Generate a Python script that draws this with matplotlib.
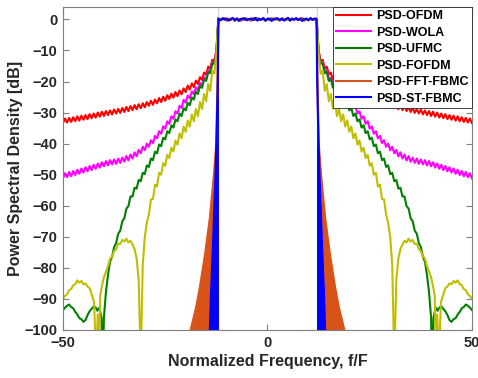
import matplotlib.pyplot as plt
import numpy as np

plt.rcParams['font.family'] = ['Liberation Sans', 'DejaVu Sans']
plt.rcParams['font.weight'] = 'bold'
plt.rcParams['axes.labelweight'] = 'bold'

# right-hand side of the spectrum, mirrored for the left side
f_side = np.arange(12.5, 50.01, 0.5)

psd_ofdm = [-10.0, -13.3, -13.0, -15.8, -15.2, -17.8, -17.1, -19.5, -18.6, -20.8,
            -19.7, -21.8, -20.6, -22.6, -21.3, -23.4, -22.2, -24.1, -22.9, -24.7,
            -23.4, -25.2, -23.9, -25.6, -24.4, -26.2, -24.9, -26.6, -25.3, -27.0,
            -25.8, -27.5, -26.2, -27.8, -26.6, -28.3, -27.0, -28.6, -27.3, -28.9,
            -27.6, -29.2, -27.9, -29.5, -28.2, -29.8, -28.5, -30.1, -28.8, -30.3,
            -29.0, -30.6, -29.3, -30.8, -29.5, -31.1, -29.7, -31.3, -30.0, -31.6,
            -30.3, -31.8, -30.5, -32.1, -30.8, -32.3, -31.0, -32.6, -31.2, -32.8,
            -31.5, -33.0, -31.7, -33.2, -31.9, -33.4]

psd_wola = [-10.5, -13.8, -13.7, -16.8, -16.4, -19.3, -18.7, -21.3, -20.5, -22.8,
            -21.9, -24.1, -23.2, -25.4, -24.5, -26.8, -25.9, -28.5, -27.8, -30.3,
            -29.6, -32.0, -31.2, -33.6, -32.8, -35.2, -34.4, -36.8, -36.0, -38.3,
            -37.5, -39.8, -38.9, -41.0, -40.0, -42.1, -41.0, -43.1, -42.0, -44.1,
            -42.8, -44.8, -43.5, -45.4, -44.0, -45.8, -44.5, -46.2, -44.8, -46.5,
            -45.1, -46.7, -45.3, -47.0, -45.6, -47.3, -46.0, -47.7, -46.4, -48.1,
            -46.8, -48.5, -47.2, -48.9, -47.6, -49.3, -48.0, -49.7, -48.4, -50.1,
            -48.8, -50.5, -49.1, -50.8, -49.5, -51.2]

f_ufmc = [12.5, 13.0, 13.5, 14.0, 14.5, 15.0, 15.5, 16.0, 16.5, 17.0,
          17.5, 18.0, 18.5, 19.0, 19.5, 20.0, 20.5, 21.0, 21.5, 22.0,
          22.5, 23.0, 23.5, 24.0, 24.5, 25.0, 25.5, 26.0, 26.5, 27.0,
          27.5, 28.0, 28.5, 29.0, 29.5, 30.0, 30.5, 31.0, 31.5, 32.0,
          32.5, 33.0, 33.5, 34.0, 34.5, 35.0, 35.5, 36.0, 36.5, 37.0,
          37.5, 38.0, 38.5, 39.0, 39.5, 40.0, 40.2, 40.6, 41.0, 41.3,
          41.6, 42.0, 42.5, 43.0, 43.5, 44.0, 44.5, 45.0, 45.5, 46.0,
          46.5, 47.0, 47.5, 48.0, 48.5, 49.0, 49.5, 50.0]
psd_ufmc = [-11.0, -14.3, -14.2, -17.3, -17.0, -19.8, -19.3, -22.0, -21.4, -24.0,
            -23.3, -25.8, -25.1, -27.6, -26.9, -29.3, -28.6, -31.1, -30.3, -32.8,
            -32.2, -34.8, -34.1, -36.6, -36.0, -38.6, -38.1, -40.8, -40.3, -43.1,
            -42.6, -45.3, -44.8, -47.5, -47.0, -49.8, -49.4, -52.1, -51.7, -54.5,
            -54.2, -57.0, -57.0, -60.1, -60.9, -64.0, -65.0, -68.0, -69.0, -72.0,
            -73.3, -76.4, -78.0, -82.3, -87.8, -96.0, -110.0, -96.0, -93.5, -93.0,
            -93.8, -92.8, -92.4, -93.2, -94.0, -95.2, -96.8, -97.4, -96.5, -96.2,
            -95.0, -94.2, -93.0, -92.6, -91.8, -92.2, -92.8, -93.6]

f_fofdm = [12.5, 13.0, 13.5, 14.0, 14.5, 15.0, 15.5, 16.0, 16.5, 17.0,
           17.5, 18.0, 18.5, 19.0, 19.5, 20.0, 20.5, 21.0, 21.5, 22.0,
           22.5, 23.0, 23.5, 24.0, 24.5, 25.0, 25.5, 26.0, 26.5, 27.0,
           27.5, 28.0, 28.5, 29.0, 29.5, 30.0, 30.5, 31.0, 31.5, 32.0,
           32.5, 33.0, 33.5, 34.0, 34.5, 35.0, 35.5, 36.0, 36.5, 37.0,
           37.5, 38.0, 38.5, 39.0, 39.5, 40.0, 40.5, 40.9, 41.2, 41.5,
           41.9, 42.4, 43.0, 43.5, 44.0, 44.5, 45.0, 45.5, 46.0, 46.5,
           47.0, 47.5, 48.0, 48.5, 49.0, 49.5, 50.0]
psd_fofdm = [-11.0, -17.5, -16.5, -23.0, -20.8, -26.4, -24.0, -28.8, -26.6, -31.2,
             -28.8, -32.8, -30.6, -34.5, -32.5, -36.2, -34.5, -38.3, -36.7, -40.3,
             -39.0, -42.5, -41.3, -44.6, -43.6, -47.1, -46.3, -50.0, -49.4, -53.8,
             -53.2, -57.8, -58.0, -62.8, -65.5, -70.0, -79.0, -110.0, -84.0, -77.0,
             -74.0, -72.5, -71.3, -71.8, -70.6, -71.5, -71.0, -72.3, -72.2, -74.0,
             -74.6, -76.3, -77.0, -79.5, -81.2, -83.0, -86.0, -89.0, -110.0, -95.0,
             -110.0, -91.0, -88.5, -86.5, -86.0, -85.0, -85.3, -84.2, -84.8, -84.0,
             -85.2, -85.6, -86.8, -87.2, -88.5, -89.0, -90.0]

# filter-bank schemes: outer envelope of the dense side lobes
f_fft_fbmc = [12.0, 12.5, 13.1, 14.1, 15.2, 16.5, 17.5, 18.8]
psd_fft_fbmc = [0.0, -39.5, -50.0, -64.0, -75.0, -86.0, -93.0, -100.0]
f_st_fbmc = [12.0, 12.15, 12.35, 12.7, 13.1, 13.4, 13.8, 14.1]
psd_st_fbmc = [0.0, -20.0, -32.0, -50.0, -64.0, -75.0, -88.0, -100.0]

# in-band ripple (f from -12 to 12)
inband_ofdm = [0.3, -0.2, 0.1, 0.4, -0.3, 0.2, -0.1, 0.3, -0.4, 0.2,
               0.1, -0.3, 0.4, -0.2, 0.2, 0.0, -0.3, 0.3, -0.1, 0.4,
               -0.2, 0.1, 0.3, -0.4, 0.2, -0.1, 0.3, -0.2, 0.4, 0.0,
               -0.3, 0.2, 0.1, -0.2, 0.4, -0.3, 0.2, 0.0, 0.3, -0.2,
               0.1, 0.4, -0.3, 0.2, -0.1, 0.3, -0.2, 0.1, 0.2]
inband_fbmc = [0.2, -0.3, 0.4, -0.1, 0.3, -0.4, 0.1, 0.5, -0.2, 0.3,
               -0.5, 0.2, 0.0, 0.4, -0.3, 0.1, 0.3, -0.2, 0.5, -0.4,
               0.2, -0.1, 0.4, -0.3, 0.1, 0.3, -0.5, 0.2, 0.0, 0.4,
               -0.2, 0.3, -0.4, 0.1, 0.5, -0.3, 0.2, -0.1, 0.4, -0.2,
               0.3, -0.5, 0.1, 0.2, -0.3, 0.4, -0.1, 0.3, 0.0]

labels = ['PSD-OFDM', 'PSD-WOLA', 'PSD-UFMC', 'PSD-FOFDM', 'PSD-FFT-FBMC', 'PSD-ST-FBMC']
colors = ['#ff0000', '#ff00ff', '#008000', '#bfbf00', '#d95319', '#0000ff']
band_edge = 12


def full_spectrum(f_right, v_right, inband):
    f_right = np.asarray(f_right, float)
    v_right = np.asarray(v_right, float)
    f_in = np.linspace(-band_edge, band_edge, len(inband))
    f = np.concatenate([-f_right[::-1], f_in, f_right])
    v = np.concatenate([v_right[::-1], inband, v_right])
    return f, v


fig = plt.figure(figsize=(4.78, 3.78), dpi=100)
ax = fig.add_axes([0.1318, 0.127, 0.8556, 0.8545])

ax.axvline(-band_edge, color='#d9d9d9', lw=1, zorder=0)
ax.axvline(band_edge, color='#d9d9d9', lw=1, zorder=0)

series = [(f_side, psd_ofdm, inband_ofdm),
          (f_side, psd_wola, inband_ofdm),
          (f_ufmc, psd_ufmc, inband_ofdm),
          (f_fofdm, psd_fofdm, inband_ofdm),
          (f_fft_fbmc, psd_fft_fbmc, inband_ofdm),
          (f_st_fbmc, psd_st_fbmc, inband_fbmc)]

for (fr, vr, ib), lab, c in zip(series, labels, colors):
    f, v = full_spectrum(fr, vr, ib)
    ax.plot(f, v, color=c, lw=1.5, label=lab)
    if lab in ('PSD-FFT-FBMC', 'PSD-ST-FBMC'):
        fr = np.asarray(fr)
        ax.fill_between(fr, vr, -100, color=c, lw=0)
        ax.fill_between(-fr, vr, -100, color=c, lw=0)

ax.set_xlim(-50, 50)
ax.set_ylim(-100, 4)
ax.set_xticks([-50, 0, 50])
ax.set_yticks(np.arange(-100, 1, 10))

txt = '#262626'
for s in ax.spines.values():
    s.set_color('#7f7f7f')
    s.set_linewidth(0.8)
ax.tick_params(direction='in', length=4, width=0.8, color='#7f7f7f',
               labelcolor=txt, labelsize=10.5, top=True, right=True, pad=4)

ax.set_xlabel('Normalized Frequency, f/F', fontsize=11.5, color=txt, labelpad=3)
ax.set_ylabel('Power Spectral Density [dB]', fontsize=11.5, color=txt, labelpad=1)

leg = ax.legend(loc='upper right', borderaxespad=0, fontsize=9, fancybox=False,
                framealpha=1, edgecolor='#262626', handlelength=2.8,
                handletextpad=0.4, labelspacing=0.36, borderpad=0.25)
leg.get_frame().set_linewidth(0.6)

fig.savefig('out.png', dpi=100)
